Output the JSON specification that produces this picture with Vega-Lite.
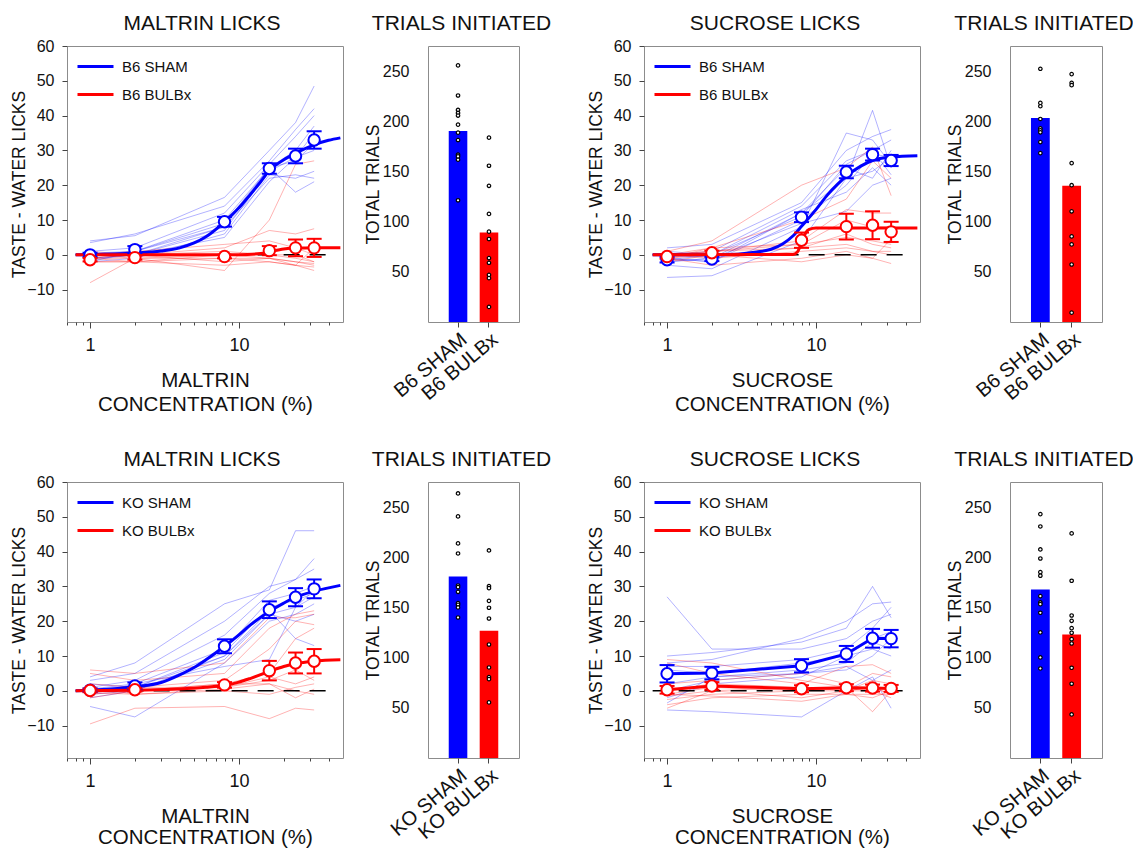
{
"$schema":"https://vega.github.io/schema/vega-lite/v6.json",
"background":"white",
"padding":{"left":10,"top":12,"right":0,"bottom":0},
"config":{
 "font":"Liberation Sans",
 "view":{"stroke":"#8c8c8c","strokeWidth":1},
 "axis":{"domain":false,"grid":false,"tickColor":"#444444","labelColor":"#111111","titleColor":"#111111","titleFontWeight":"normal","labelFont":"Liberation Sans","titleFont":"Liberation Sans"},
 "title":{"fontWeight":"normal","fontSize":21,"color":"#111111","font":"Liberation Sans"},
 "legend":{"orient":"none","legendX":9,"legendY":1,"symbolType":"stroke","symbolStrokeWidth":3,"symbolSize":1296,"symbolOpacity":1,"labelFontSize":15,"labelFont":"Liberation Sans","labelColor":"#111111","rowPadding":-18,"labelOffset":7,"padding":0}
},
"datasets":{
"zero":[{"c":0.8,"v":0},{"c":42,"v":0}],
"p1i":[
{"g":"B6 SHAM","a":"b1","c":1,"v":4},{"g":"B6 SHAM","a":"b1","c":2,"v":5.5},{"g":"B6 SHAM","a":"b1","c":8,"v":16.5},{"g":"B6 SHAM","a":"b1","c":16,"v":30},{"g":"B6 SHAM","a":"b1","c":24,"v":38},{"g":"B6 SHAM","a":"b1","c":32,"v":48.5},
{"g":"B6 SHAM","a":"b2","c":1,"v":3.5},{"g":"B6 SHAM","a":"b2","c":2,"v":6},{"g":"B6 SHAM","a":"b2","c":8,"v":14},{"g":"B6 SHAM","a":"b2","c":16,"v":27},{"g":"B6 SHAM","a":"b2","c":24,"v":36},{"g":"B6 SHAM","a":"b2","c":32,"v":42},
{"g":"B6 SHAM","a":"b3","c":1,"v":1},{"g":"B6 SHAM","a":"b3","c":2,"v":2},{"g":"B6 SHAM","a":"b3","c":8,"v":12},{"g":"B6 SHAM","a":"b3","c":16,"v":26},{"g":"B6 SHAM","a":"b3","c":24,"v":34},{"g":"B6 SHAM","a":"b3","c":32,"v":40},
{"g":"B6 SHAM","a":"b4","c":1,"v":0.5},{"g":"B6 SHAM","a":"b4","c":2,"v":1},{"g":"B6 SHAM","a":"b4","c":8,"v":9},{"g":"B6 SHAM","a":"b4","c":16,"v":25},{"g":"B6 SHAM","a":"b4","c":24,"v":30},{"g":"B6 SHAM","a":"b4","c":32,"v":37},
{"g":"B6 SHAM","a":"b5","c":1,"v":-1},{"g":"B6 SHAM","a":"b5","c":2,"v":0},{"g":"B6 SHAM","a":"b5","c":8,"v":7},{"g":"B6 SHAM","a":"b5","c":16,"v":24},{"g":"B6 SHAM","a":"b5","c":24,"v":28},{"g":"B6 SHAM","a":"b5","c":32,"v":35},
{"g":"B6 SHAM","a":"b6","c":1,"v":-2},{"g":"B6 SHAM","a":"b6","c":2,"v":-1},{"g":"B6 SHAM","a":"b6","c":8,"v":6},{"g":"B6 SHAM","a":"b6","c":16,"v":23},{"g":"B6 SHAM","a":"b6","c":24,"v":22},{"g":"B6 SHAM","a":"b6","c":32,"v":24},
{"g":"B6 SHAM","a":"b7","c":1,"v":-1.5},{"g":"B6 SHAM","a":"b7","c":2,"v":0},{"g":"B6 SHAM","a":"b7","c":8,"v":8},{"g":"B6 SHAM","a":"b7","c":16,"v":22},{"g":"B6 SHAM","a":"b7","c":24,"v":23},{"g":"B6 SHAM","a":"b7","c":32,"v":22},
{"g":"B6 SHAM","a":"b8","c":1,"v":0},{"g":"B6 SHAM","a":"b8","c":2,"v":1},{"g":"B6 SHAM","a":"b8","c":8,"v":10},{"g":"B6 SHAM","a":"b8","c":16,"v":25},{"g":"B6 SHAM","a":"b8","c":24,"v":18},{"g":"B6 SHAM","a":"b8","c":32,"v":21},
{"g":"B6 SHAM","a":"b9","c":1,"v":-1},{"g":"B6 SHAM","a":"b9","c":2,"v":0},{"g":"B6 SHAM","a":"b9","c":8,"v":5},{"g":"B6 SHAM","a":"b9","c":16,"v":21},{"g":"B6 SHAM","a":"b9","c":24,"v":28},{"g":"B6 SHAM","a":"b9","c":32,"v":30},
{"g":"B6 SHAM","a":"b10","c":1,"v":-2},{"g":"B6 SHAM","a":"b10","c":2,"v":1},{"g":"B6 SHAM","a":"b10","c":8,"v":8},{"g":"B6 SHAM","a":"b10","c":16,"v":25},{"g":"B6 SHAM","a":"b10","c":24,"v":27},{"g":"B6 SHAM","a":"b10","c":32,"v":32},
{"g":"B6 BULBx","a":"r1","c":1,"v":-8},{"g":"B6 BULBx","a":"r1","c":2,"v":-1},{"g":"B6 BULBx","a":"r1","c":8,"v":-4.5},{"g":"B6 BULBx","a":"r1","c":16,"v":10},{"g":"B6 BULBx","a":"r1","c":24,"v":26},{"g":"B6 BULBx","a":"r1","c":32,"v":27},
{"g":"B6 BULBx","a":"r2","c":1,"v":-2},{"g":"B6 BULBx","a":"r2","c":2,"v":-2},{"g":"B6 BULBx","a":"r2","c":8,"v":-3},{"g":"B6 BULBx","a":"r2","c":16,"v":-2},{"g":"B6 BULBx","a":"r2","c":24,"v":-3},{"g":"B6 BULBx","a":"r2","c":32,"v":-4.5},
{"g":"B6 BULBx","a":"r3","c":1,"v":-1},{"g":"B6 BULBx","a":"r3","c":2,"v":0},{"g":"B6 BULBx","a":"r3","c":8,"v":2},{"g":"B6 BULBx","a":"r3","c":16,"v":7},{"g":"B6 BULBx","a":"r3","c":24,"v":6},{"g":"B6 BULBx","a":"r3","c":32,"v":7.5},
{"g":"B6 BULBx","a":"r4","c":1,"v":0},{"g":"B6 BULBx","a":"r4","c":2,"v":1},{"g":"B6 BULBx","a":"r4","c":8,"v":3},{"g":"B6 BULBx","a":"r4","c":16,"v":4},{"g":"B6 BULBx","a":"r4","c":24,"v":2},{"g":"B6 BULBx","a":"r4","c":32,"v":0},
{"g":"B6 BULBx","a":"r5","c":1,"v":1},{"g":"B6 BULBx","a":"r5","c":2,"v":0},{"g":"B6 BULBx","a":"r5","c":8,"v":-2},{"g":"B6 BULBx","a":"r5","c":16,"v":-1},{"g":"B6 BULBx","a":"r5","c":24,"v":-2},{"g":"B6 BULBx","a":"r5","c":32,"v":-3},
{"g":"B6 BULBx","a":"r6","c":1,"v":-1},{"g":"B6 BULBx","a":"r6","c":2,"v":-1},{"g":"B6 BULBx","a":"r6","c":8,"v":0},{"g":"B6 BULBx","a":"r6","c":16,"v":0},{"g":"B6 BULBx","a":"r6","c":24,"v":-1},{"g":"B6 BULBx","a":"r6","c":32,"v":-2},
{"g":"B6 BULBx","a":"r7","c":1,"v":-2},{"g":"B6 BULBx","a":"r7","c":2,"v":-2},{"g":"B6 BULBx","a":"r7","c":8,"v":-1},{"g":"B6 BULBx","a":"r7","c":16,"v":-2},{"g":"B6 BULBx","a":"r7","c":24,"v":-3},{"g":"B6 BULBx","a":"r7","c":32,"v":-3.5},
{"g":"B6 BULBx","a":"r8","c":1,"v":0},{"g":"B6 BULBx","a":"r8","c":2,"v":0},{"g":"B6 BULBx","a":"r8","c":8,"v":1},{"g":"B6 BULBx","a":"r8","c":16,"v":0},{"g":"B6 BULBx","a":"r8","c":24,"v":0},{"g":"B6 BULBx","a":"r8","c":32,"v":-2},
{"g":"B6 BULBx","a":"r9","c":1,"v":-1},{"g":"B6 BULBx","a":"r9","c":2,"v":-2},{"g":"B6 BULBx","a":"r9","c":8,"v":0},{"g":"B6 BULBx","a":"r9","c":16,"v":-1},{"g":"B6 BULBx","a":"r9","c":24,"v":-2},{"g":"B6 BULBx","a":"r9","c":32,"v":-2.5},
{"g":"B6 BULBx","a":"r10","c":1,"v":0},{"g":"B6 BULBx","a":"r10","c":2,"v":-1},{"g":"B6 BULBx","a":"r10","c":8,"v":-1},{"g":"B6 BULBx","a":"r10","c":16,"v":-1},{"g":"B6 BULBx","a":"r10","c":24,"v":-3},{"g":"B6 BULBx","a":"r10","c":32,"v":2}
],
"p1f":[
{"g":"B6 SHAM","c":0.8,"v":0},{"g":"B6 SHAM","c":1,"v":0.05},{"g":"B6 SHAM","c":2,"v":0.5},{"g":"B6 SHAM","c":3,"v":1.1},{"g":"B6 SHAM","c":4,"v":2},{"g":"B6 SHAM","c":5,"v":3.4},{"g":"B6 SHAM","c":6,"v":5.2},{"g":"B6 SHAM","c":8,"v":9.5},{"g":"B6 SHAM","c":10,"v":13.5},{"g":"B6 SHAM","c":12,"v":17.5},{"g":"B6 SHAM","c":14,"v":21},{"g":"B6 SHAM","c":16,"v":24.2},{"g":"B6 SHAM","c":20,"v":27.3},{"g":"B6 SHAM","c":24,"v":29.2},{"g":"B6 SHAM","c":32,"v":31.6},{"g":"B6 SHAM","c":40,"v":32.9},{"g":"B6 SHAM","c":48,"v":33.6},
{"g":"B6 BULBx","c":0.8,"v":0},{"g":"B6 BULBx","c":10,"v":0.05},{"g":"B6 BULBx","c":14,"v":0.4},{"g":"B6 BULBx","c":16,"v":0.9},{"g":"B6 BULBx","c":20,"v":1.7},{"g":"B6 BULBx","c":24,"v":1.95},{"g":"B6 BULBx","c":32,"v":2},{"g":"B6 BULBx","c":48,"v":2}
],
"p1m":[
{"g":"B6 SHAM","c":1,"m":0,"lo":-0.6,"hi":0.6},{"g":"B6 SHAM","c":2,"m":1.5,"lo":0.5,"hi":2.5},{"g":"B6 SHAM","c":8,"m":9.5,"lo":8.1,"hi":10.9},{"g":"B6 SHAM","c":16,"m":24.8,"lo":23.3,"hi":26.3},{"g":"B6 SHAM","c":24,"m":28.4,"lo":26.3,"hi":30.5},{"g":"B6 SHAM","c":32,"m":33,"lo":30.5,"hi":35.5},
{"g":"B6 BULBx","c":1,"m":-1.4,"lo":-1.9,"hi":-0.9},{"g":"B6 BULBx","c":2,"m":-0.8,"lo":-1.4,"hi":-0.2},{"g":"B6 BULBx","c":8,"m":-0.5,"lo":-1,"hi":0},{"g":"B6 BULBx","c":16,"m":1.2,"lo":-0.1,"hi":2.5},{"g":"B6 BULBx","c":24,"m":2,"lo":-0.4,"hi":4.4},{"g":"B6 BULBx","c":32,"m":2,"lo":-0.6,"hi":4.6}
],
"p3i":[
{"g":"B6 SHAM","a":"b1","c":1,"v":-6.5},{"g":"B6 SHAM","a":"b1","c":2,"v":-6},{"g":"B6 SHAM","a":"b1","c":8,"v":4},{"g":"B6 SHAM","a":"b1","c":16,"v":22},{"g":"B6 SHAM","a":"b1","c":24,"v":41.5},{"g":"B6 SHAM","a":"b1","c":32,"v":25},
{"g":"B6 SHAM","a":"b2","c":1,"v":-3},{"g":"B6 SHAM","a":"b2","c":2,"v":-4},{"g":"B6 SHAM","a":"b2","c":8,"v":8},{"g":"B6 SHAM","a":"b2","c":16,"v":35},{"g":"B6 SHAM","a":"b2","c":24,"v":33},{"g":"B6 SHAM","a":"b2","c":32,"v":26},
{"g":"B6 SHAM","a":"b3","c":1,"v":2},{"g":"B6 SHAM","a":"b3","c":2,"v":3},{"g":"B6 SHAM","a":"b3","c":8,"v":15},{"g":"B6 SHAM","a":"b3","c":16,"v":30},{"g":"B6 SHAM","a":"b3","c":24,"v":34},{"g":"B6 SHAM","a":"b3","c":32,"v":36},
{"g":"B6 SHAM","a":"b4","c":1,"v":0},{"g":"B6 SHAM","a":"b4","c":2,"v":1},{"g":"B6 SHAM","a":"b4","c":8,"v":14},{"g":"B6 SHAM","a":"b4","c":16,"v":27},{"g":"B6 SHAM","a":"b4","c":24,"v":30},{"g":"B6 SHAM","a":"b4","c":32,"v":33},
{"g":"B6 SHAM","a":"b5","c":1,"v":-2},{"g":"B6 SHAM","a":"b5","c":2,"v":-1},{"g":"B6 SHAM","a":"b5","c":8,"v":12},{"g":"B6 SHAM","a":"b5","c":16,"v":25},{"g":"B6 SHAM","a":"b5","c":24,"v":22},{"g":"B6 SHAM","a":"b5","c":32,"v":30},
{"g":"B6 SHAM","a":"b6","c":1,"v":-1},{"g":"B6 SHAM","a":"b6","c":2,"v":-2},{"g":"B6 SHAM","a":"b6","c":8,"v":10},{"g":"B6 SHAM","a":"b6","c":16,"v":20},{"g":"B6 SHAM","a":"b6","c":24,"v":29},{"g":"B6 SHAM","a":"b6","c":32,"v":28},
{"g":"B6 SHAM","a":"b7","c":1,"v":1},{"g":"B6 SHAM","a":"b7","c":2,"v":0},{"g":"B6 SHAM","a":"b7","c":8,"v":13},{"g":"B6 SHAM","a":"b7","c":16,"v":18},{"g":"B6 SHAM","a":"b7","c":24,"v":25},{"g":"B6 SHAM","a":"b7","c":32,"v":20},
{"g":"B6 SHAM","a":"b8","c":1,"v":-1.5},{"g":"B6 SHAM","a":"b8","c":2,"v":0},{"g":"B6 SHAM","a":"b8","c":8,"v":11},{"g":"B6 SHAM","a":"b8","c":16,"v":26},{"g":"B6 SHAM","a":"b8","c":24,"v":30},{"g":"B6 SHAM","a":"b8","c":32,"v":23},
{"g":"B6 SHAM","a":"b9","c":1,"v":-2},{"g":"B6 SHAM","a":"b9","c":2,"v":-1},{"g":"B6 SHAM","a":"b9","c":8,"v":9},{"g":"B6 SHAM","a":"b9","c":16,"v":12.5},{"g":"B6 SHAM","a":"b9","c":24,"v":20},{"g":"B6 SHAM","a":"b9","c":32,"v":22},
{"g":"B6 SHAM","a":"b10","c":1,"v":-1},{"g":"B6 SHAM","a":"b10","c":2,"v":-2},{"g":"B6 SHAM","a":"b10","c":8,"v":12},{"g":"B6 SHAM","a":"b10","c":16,"v":22},{"g":"B6 SHAM","a":"b10","c":24,"v":24},{"g":"B6 SHAM","a":"b10","c":32,"v":28},
{"g":"B6 BULBx","a":"r1","c":1,"v":1},{"g":"B6 BULBx","a":"r1","c":2,"v":4},{"g":"B6 BULBx","a":"r1","c":8,"v":20},{"g":"B6 BULBx","a":"r1","c":16,"v":25},{"g":"B6 BULBx","a":"r1","c":24,"v":31},{"g":"B6 BULBx","a":"r1","c":32,"v":17},
{"g":"B6 BULBx","a":"r2","c":1,"v":0},{"g":"B6 BULBx","a":"r2","c":2,"v":2},{"g":"B6 BULBx","a":"r2","c":8,"v":10},{"g":"B6 BULBx","a":"r2","c":16,"v":16},{"g":"B6 BULBx","a":"r2","c":24,"v":27},{"g":"B6 BULBx","a":"r2","c":32,"v":22},
{"g":"B6 BULBx","a":"r3","c":1,"v":-1},{"g":"B6 BULBx","a":"r3","c":2,"v":1},{"g":"B6 BULBx","a":"r3","c":8,"v":4},{"g":"B6 BULBx","a":"r3","c":16,"v":13},{"g":"B6 BULBx","a":"r3","c":24,"v":12},{"g":"B6 BULBx","a":"r3","c":32,"v":12},
{"g":"B6 BULBx","a":"r4","c":1,"v":0},{"g":"B6 BULBx","a":"r4","c":2,"v":1},{"g":"B6 BULBx","a":"r4","c":8,"v":3},{"g":"B6 BULBx","a":"r4","c":16,"v":10},{"g":"B6 BULBx","a":"r4","c":24,"v":8},{"g":"B6 BULBx","a":"r4","c":32,"v":8},
{"g":"B6 BULBx","a":"r5","c":1,"v":-1},{"g":"B6 BULBx","a":"r5","c":2,"v":0},{"g":"B6 BULBx","a":"r5","c":8,"v":2},{"g":"B6 BULBx","a":"r5","c":16,"v":6},{"g":"B6 BULBx","a":"r5","c":24,"v":3},{"g":"B6 BULBx","a":"r5","c":32,"v":2},
{"g":"B6 BULBx","a":"r6","c":1,"v":0},{"g":"B6 BULBx","a":"r6","c":2,"v":-1},{"g":"B6 BULBx","a":"r6","c":8,"v":1},{"g":"B6 BULBx","a":"r6","c":16,"v":2},{"g":"B6 BULBx","a":"r6","c":24,"v":1},{"g":"B6 BULBx","a":"r6","c":32,"v":0},
{"g":"B6 BULBx","a":"r7","c":1,"v":-2},{"g":"B6 BULBx","a":"r7","c":2,"v":0},{"g":"B6 BULBx","a":"r7","c":8,"v":-2},{"g":"B6 BULBx","a":"r7","c":16,"v":0},{"g":"B6 BULBx","a":"r7","c":24,"v":-1},{"g":"B6 BULBx","a":"r7","c":32,"v":-2.5},
{"g":"B6 BULBx","a":"r8","c":1,"v":-1},{"g":"B6 BULBx","a":"r8","c":2,"v":2},{"g":"B6 BULBx","a":"r8","c":8,"v":3},{"g":"B6 BULBx","a":"r8","c":16,"v":5},{"g":"B6 BULBx","a":"r8","c":24,"v":4},{"g":"B6 BULBx","a":"r8","c":32,"v":3},
{"g":"B6 BULBx","a":"r9","c":1,"v":0},{"g":"B6 BULBx","a":"r9","c":2,"v":1},{"g":"B6 BULBx","a":"r9","c":8,"v":2},{"g":"B6 BULBx","a":"r9","c":16,"v":3},{"g":"B6 BULBx","a":"r9","c":24,"v":1},{"g":"B6 BULBx","a":"r9","c":32,"v":1},
{"g":"B6 BULBx","a":"r10","c":1,"v":-1},{"g":"B6 BULBx","a":"r10","c":2,"v":-3},{"g":"B6 BULBx","a":"r10","c":8,"v":-1},{"g":"B6 BULBx","a":"r10","c":16,"v":1},{"g":"B6 BULBx","a":"r10","c":24,"v":-1},{"g":"B6 BULBx","a":"r10","c":32,"v":4.5}
],
"p3f":[
{"g":"B6 SHAM","c":0.8,"v":0},{"g":"B6 SHAM","c":2,"v":0},{"g":"B6 SHAM","c":3,"v":0.2},{"g":"B6 SHAM","c":4,"v":0.8},{"g":"B6 SHAM","c":5,"v":1.6},{"g":"B6 SHAM","c":6,"v":3.2},{"g":"B6 SHAM","c":7,"v":5.4},{"g":"B6 SHAM","c":8,"v":8.2},{"g":"B6 SHAM","c":10,"v":13},{"g":"B6 SHAM","c":12,"v":17.3},{"g":"B6 SHAM","c":14,"v":20.3},{"g":"B6 SHAM","c":16,"v":22.6},{"g":"B6 SHAM","c":20,"v":25.5},{"g":"B6 SHAM","c":24,"v":27.1},{"g":"B6 SHAM","c":32,"v":28.1},{"g":"B6 SHAM","c":48,"v":28.5},
{"g":"B6 BULBx","c":0.8,"v":0},{"g":"B6 BULBx","c":7,"v":0.1},{"g":"B6 BULBx","c":7.5,"v":0.8},{"g":"B6 BULBx","c":8,"v":3.5},{"g":"B6 BULBx","c":8.5,"v":6.2},{"g":"B6 BULBx","c":9,"v":7.3},{"g":"B6 BULBx","c":10,"v":7.7},{"g":"B6 BULBx","c":48,"v":7.7}
],
"p3m":[
{"g":"B6 SHAM","c":1,"m":-1.4,"lo":-2.2,"hi":-0.6},{"g":"B6 SHAM","c":2,"m":-1.2,"lo":-1.8,"hi":-0.6},{"g":"B6 SHAM","c":8,"m":10.8,"lo":9.4,"hi":12.2},{"g":"B6 SHAM","c":16,"m":23.8,"lo":22,"hi":25.6},{"g":"B6 SHAM","c":24,"m":28.8,"lo":27.1,"hi":30.5},{"g":"B6 SHAM","c":32,"m":27.1,"lo":25.5,"hi":28.7},
{"g":"B6 BULBx","c":1,"m":-0.5,"lo":-1.1,"hi":0.1},{"g":"B6 BULBx","c":2,"m":0.6,"lo":0,"hi":1.2},{"g":"B6 BULBx","c":8,"m":4.2,"lo":2,"hi":6.4},{"g":"B6 BULBx","c":16,"m":8.1,"lo":4.4,"hi":11.8},{"g":"B6 BULBx","c":24,"m":8.5,"lo":4.5,"hi":12.5},{"g":"B6 BULBx","c":32,"m":6.6,"lo":3.7,"hi":9.5}
],
"p5i":[
{"g":"KO SHAM","a":"b1","c":1,"v":4},{"g":"KO SHAM","a":"b1","c":2,"v":8},{"g":"KO SHAM","a":"b1","c":8,"v":25},{"g":"KO SHAM","a":"b1","c":16,"v":29},{"g":"KO SHAM","a":"b1","c":24,"v":46},{"g":"KO SHAM","a":"b1","c":32,"v":46},
{"g":"KO SHAM","a":"b2","c":1,"v":3},{"g":"KO SHAM","a":"b2","c":2,"v":5},{"g":"KO SHAM","a":"b2","c":8,"v":20},{"g":"KO SHAM","a":"b2","c":16,"v":30},{"g":"KO SHAM","a":"b2","c":24,"v":32},{"g":"KO SHAM","a":"b2","c":32,"v":38},
{"g":"KO SHAM","a":"b3","c":1,"v":1},{"g":"KO SHAM","a":"b3","c":2,"v":3},{"g":"KO SHAM","a":"b3","c":8,"v":16},{"g":"KO SHAM","a":"b3","c":16,"v":28},{"g":"KO SHAM","a":"b3","c":24,"v":32},{"g":"KO SHAM","a":"b3","c":32,"v":35},
{"g":"KO SHAM","a":"b4","c":1,"v":-1},{"g":"KO SHAM","a":"b4","c":2,"v":2},{"g":"KO SHAM","a":"b4","c":8,"v":12},{"g":"KO SHAM","a":"b4","c":16,"v":26},{"g":"KO SHAM","a":"b4","c":24,"v":28},{"g":"KO SHAM","a":"b4","c":32,"v":30},
{"g":"KO SHAM","a":"b5","c":1,"v":0},{"g":"KO SHAM","a":"b5","c":2,"v":1},{"g":"KO SHAM","a":"b5","c":8,"v":11},{"g":"KO SHAM","a":"b5","c":16,"v":24},{"g":"KO SHAM","a":"b5","c":24,"v":26},{"g":"KO SHAM","a":"b5","c":32,"v":28},
{"g":"KO SHAM","a":"b6","c":1,"v":-2},{"g":"KO SHAM","a":"b6","c":2,"v":0},{"g":"KO SHAM","a":"b6","c":8,"v":10},{"g":"KO SHAM","a":"b6","c":16,"v":22},{"g":"KO SHAM","a":"b6","c":24,"v":24},{"g":"KO SHAM","a":"b6","c":32,"v":27},
{"g":"KO SHAM","a":"b7","c":1,"v":-4.5},{"g":"KO SHAM","a":"b7","c":2,"v":-7.5},{"g":"KO SHAM","a":"b7","c":8,"v":8},{"g":"KO SHAM","a":"b7","c":16,"v":20},{"g":"KO SHAM","a":"b7","c":24,"v":22},{"g":"KO SHAM","a":"b7","c":32,"v":25},
{"g":"KO SHAM","a":"b8","c":1,"v":2},{"g":"KO SHAM","a":"b8","c":2,"v":1},{"g":"KO SHAM","a":"b8","c":8,"v":10},{"g":"KO SHAM","a":"b8","c":16,"v":23},{"g":"KO SHAM","a":"b8","c":24,"v":15},{"g":"KO SHAM","a":"b8","c":32,"v":13},
{"g":"KO SHAM","a":"b9","c":1,"v":-1},{"g":"KO SHAM","a":"b9","c":2,"v":0},{"g":"KO SHAM","a":"b9","c":8,"v":9},{"g":"KO SHAM","a":"b9","c":16,"v":22},{"g":"KO SHAM","a":"b9","c":24,"v":20},{"g":"KO SHAM","a":"b9","c":32,"v":22},
{"g":"KO SHAM","a":"b10","c":1,"v":0.5},{"g":"KO SHAM","a":"b10","c":2,"v":2},{"g":"KO SHAM","a":"b10","c":8,"v":7},{"g":"KO SHAM","a":"b10","c":16,"v":9},{"g":"KO SHAM","a":"b10","c":24,"v":24},{"g":"KO SHAM","a":"b10","c":32,"v":29},
{"g":"KO BULBx","a":"r1","c":1,"v":6},{"g":"KO BULBx","a":"r1","c":2,"v":5},{"g":"KO BULBx","a":"r1","c":8,"v":8},{"g":"KO BULBx","a":"r1","c":16,"v":21},{"g":"KO BULBx","a":"r1","c":24,"v":21},{"g":"KO BULBx","a":"r1","c":32,"v":22},
{"g":"KO BULBx","a":"r2","c":1,"v":5},{"g":"KO BULBx","a":"r2","c":2,"v":3},{"g":"KO BULBx","a":"r2","c":8,"v":5},{"g":"KO BULBx","a":"r2","c":16,"v":18},{"g":"KO BULBx","a":"r2","c":24,"v":22},{"g":"KO BULBx","a":"r2","c":32,"v":23},
{"g":"KO BULBx","a":"r3","c":1,"v":-9.5},{"g":"KO BULBx","a":"r3","c":2,"v":-5},{"g":"KO BULBx","a":"r3","c":8,"v":-4.5},{"g":"KO BULBx","a":"r3","c":16,"v":-8},{"g":"KO BULBx","a":"r3","c":24,"v":-5},{"g":"KO BULBx","a":"r3","c":32,"v":-5.5},
{"g":"KO BULBx","a":"r4","c":1,"v":2},{"g":"KO BULBx","a":"r4","c":2,"v":1},{"g":"KO BULBx","a":"r4","c":8,"v":3},{"g":"KO BULBx","a":"r4","c":16,"v":12},{"g":"KO BULBx","a":"r4","c":24,"v":20},{"g":"KO BULBx","a":"r4","c":32,"v":19},
{"g":"KO BULBx","a":"r5","c":1,"v":0},{"g":"KO BULBx","a":"r5","c":2,"v":0},{"g":"KO BULBx","a":"r5","c":8,"v":2},{"g":"KO BULBx","a":"r5","c":16,"v":5},{"g":"KO BULBx","a":"r5","c":24,"v":15},{"g":"KO BULBx","a":"r5","c":32,"v":18},
{"g":"KO BULBx","a":"r6","c":1,"v":-1},{"g":"KO BULBx","a":"r6","c":2,"v":0},{"g":"KO BULBx","a":"r6","c":8,"v":1},{"g":"KO BULBx","a":"r6","c":16,"v":3},{"g":"KO BULBx","a":"r6","c":24,"v":6},{"g":"KO BULBx","a":"r6","c":32,"v":3},
{"g":"KO BULBx","a":"r7","c":1,"v":1},{"g":"KO BULBx","a":"r7","c":2,"v":-1},{"g":"KO BULBx","a":"r7","c":8,"v":0},{"g":"KO BULBx","a":"r7","c":16,"v":-1},{"g":"KO BULBx","a":"r7","c":24,"v":1},{"g":"KO BULBx","a":"r7","c":32,"v":2},
{"g":"KO BULBx","a":"r8","c":1,"v":-2},{"g":"KO BULBx","a":"r8","c":2,"v":0},{"g":"KO BULBx","a":"r8","c":8,"v":2},{"g":"KO BULBx","a":"r8","c":16,"v":2},{"g":"KO BULBx","a":"r8","c":24,"v":0},{"g":"KO BULBx","a":"r8","c":32,"v":-1},
{"g":"KO BULBx","a":"r9","c":1,"v":0},{"g":"KO BULBx","a":"r9","c":2,"v":1},{"g":"KO BULBx","a":"r9","c":8,"v":1},{"g":"KO BULBx","a":"r9","c":16,"v":4},{"g":"KO BULBx","a":"r9","c":24,"v":2},{"g":"KO BULBx","a":"r9","c":32,"v":4},
{"g":"KO BULBx","a":"r10","c":1,"v":-0.5},{"g":"KO BULBx","a":"r10","c":2,"v":-1},{"g":"KO BULBx","a":"r10","c":8,"v":0.5},{"g":"KO BULBx","a":"r10","c":16,"v":2},{"g":"KO BULBx","a":"r10","c":24,"v":-2},{"g":"KO BULBx","a":"r10","c":32,"v":0.5}
],
"p5f":[
{"g":"KO SHAM","c":0.8,"v":0},{"g":"KO SHAM","c":1,"v":0.2},{"g":"KO SHAM","c":2,"v":1.2},{"g":"KO SHAM","c":3,"v":2.4},{"g":"KO SHAM","c":4,"v":4.6},{"g":"KO SHAM","c":5,"v":6.7},{"g":"KO SHAM","c":6,"v":8.9},{"g":"KO SHAM","c":8,"v":12.8},{"g":"KO SHAM","c":10,"v":16.1},{"g":"KO SHAM","c":12,"v":19},{"g":"KO SHAM","c":16,"v":22.8},{"g":"KO SHAM","c":20,"v":25.2},{"g":"KO SHAM","c":24,"v":26.9},{"g":"KO SHAM","c":32,"v":28.6},{"g":"KO SHAM","c":48,"v":30.3},
{"g":"KO BULBx","c":0.8,"v":0},{"g":"KO BULBx","c":2,"v":0.2},{"g":"KO BULBx","c":4,"v":0.5},{"g":"KO BULBx","c":6,"v":1},{"g":"KO BULBx","c":8,"v":1.6},{"g":"KO BULBx","c":10,"v":2.5},{"g":"KO BULBx","c":12,"v":3.6},{"g":"KO BULBx","c":16,"v":5.6},{"g":"KO BULBx","c":20,"v":7},{"g":"KO BULBx","c":24,"v":7.8},{"g":"KO BULBx","c":32,"v":8.5},{"g":"KO BULBx","c":48,"v":8.9}
],
"p5m":[
{"g":"KO SHAM","c":1,"m":0.2,"lo":-0.3,"hi":0.7},{"g":"KO SHAM","c":2,"m":1.4,"lo":0.4,"hi":2.4},{"g":"KO SHAM","c":8,"m":12.8,"lo":10.8,"hi":14.8},{"g":"KO SHAM","c":16,"m":23.3,"lo":20.9,"hi":25.7},{"g":"KO SHAM","c":24,"m":26.9,"lo":24.3,"hi":29.5},{"g":"KO SHAM","c":32,"m":29.3,"lo":26.6,"hi":32},
{"g":"KO BULBx","c":1,"m":0.1,"lo":-0.4,"hi":0.6},{"g":"KO BULBx","c":2,"m":0.3,"lo":-0.2,"hi":0.8},{"g":"KO BULBx","c":8,"m":1.7,"lo":0.9,"hi":2.5},{"g":"KO BULBx","c":16,"m":5.8,"lo":3,"hi":8.6},{"g":"KO BULBx","c":24,"m":8,"lo":5,"hi":11},{"g":"KO BULBx","c":32,"m":8.5,"lo":5,"hi":12}
],
"p7i":[
{"g":"KO SHAM","a":"b1","c":1,"v":27},{"g":"KO SHAM","a":"b1","c":2,"v":12},{"g":"KO SHAM","a":"b1","c":8,"v":12},{"g":"KO SHAM","a":"b1","c":16,"v":15},{"g":"KO SHAM","a":"b1","c":24,"v":20},{"g":"KO SHAM","a":"b1","c":32,"v":22},
{"g":"KO SHAM","a":"b2","c":1,"v":10},{"g":"KO SHAM","a":"b2","c":2,"v":11},{"g":"KO SHAM","a":"b2","c":8,"v":14},{"g":"KO SHAM","a":"b2","c":16,"v":18},{"g":"KO SHAM","a":"b2","c":24,"v":30},{"g":"KO SHAM","a":"b2","c":32,"v":21},
{"g":"KO SHAM","a":"b3","c":1,"v":8},{"g":"KO SHAM","a":"b3","c":2,"v":9},{"g":"KO SHAM","a":"b3","c":8,"v":15},{"g":"KO SHAM","a":"b3","c":16,"v":20},{"g":"KO SHAM","a":"b3","c":24,"v":25},{"g":"KO SHAM","a":"b3","c":32,"v":25.5},
{"g":"KO SHAM","a":"b4","c":1,"v":7},{"g":"KO SHAM","a":"b4","c":2,"v":7},{"g":"KO SHAM","a":"b4","c":8,"v":9},{"g":"KO SHAM","a":"b4","c":16,"v":12},{"g":"KO SHAM","a":"b4","c":24,"v":18},{"g":"KO SHAM","a":"b4","c":32,"v":24},
{"g":"KO SHAM","a":"b5","c":1,"v":6},{"g":"KO SHAM","a":"b5","c":2,"v":5},{"g":"KO SHAM","a":"b5","c":8,"v":8},{"g":"KO SHAM","a":"b5","c":16,"v":10},{"g":"KO SHAM","a":"b5","c":24,"v":15},{"g":"KO SHAM","a":"b5","c":32,"v":17},
{"g":"KO SHAM","a":"b6","c":1,"v":2},{"g":"KO SHAM","a":"b6","c":2,"v":4},{"g":"KO SHAM","a":"b6","c":8,"v":6},{"g":"KO SHAM","a":"b6","c":16,"v":8},{"g":"KO SHAM","a":"b6","c":24,"v":14},{"g":"KO SHAM","a":"b6","c":32,"v":12},
{"g":"KO SHAM","a":"b7","c":1,"v":0},{"g":"KO SHAM","a":"b7","c":2,"v":3},{"g":"KO SHAM","a":"b7","c":8,"v":5},{"g":"KO SHAM","a":"b7","c":16,"v":6},{"g":"KO SHAM","a":"b7","c":24,"v":10},{"g":"KO SHAM","a":"b7","c":32,"v":15},
{"g":"KO SHAM","a":"b8","c":1,"v":-2},{"g":"KO SHAM","a":"b8","c":2,"v":2},{"g":"KO SHAM","a":"b8","c":8,"v":4},{"g":"KO SHAM","a":"b8","c":16,"v":10},{"g":"KO SHAM","a":"b8","c":24,"v":12},{"g":"KO SHAM","a":"b8","c":32,"v":10},
{"g":"KO SHAM","a":"b9","c":1,"v":-3.5},{"g":"KO SHAM","a":"b9","c":2,"v":4},{"g":"KO SHAM","a":"b9","c":8,"v":5},{"g":"KO SHAM","a":"b9","c":16,"v":7},{"g":"KO SHAM","a":"b9","c":24,"v":3},{"g":"KO SHAM","a":"b9","c":32,"v":6},
{"g":"KO SHAM","a":"b10","c":1,"v":-5.5},{"g":"KO SHAM","a":"b10","c":2,"v":-6},{"g":"KO SHAM","a":"b10","c":8,"v":-7.5},{"g":"KO SHAM","a":"b10","c":16,"v":0},{"g":"KO SHAM","a":"b10","c":24,"v":4},{"g":"KO SHAM","a":"b10","c":32,"v":-5},
{"g":"KO BULBx","a":"r1","c":1,"v":9},{"g":"KO BULBx","a":"r1","c":2,"v":8},{"g":"KO BULBx","a":"r1","c":8,"v":3},{"g":"KO BULBx","a":"r1","c":16,"v":1},{"g":"KO BULBx","a":"r1","c":24,"v":5},{"g":"KO BULBx","a":"r1","c":32,"v":4},
{"g":"KO BULBx","a":"r2","c":1,"v":8},{"g":"KO BULBx","a":"r2","c":2,"v":5},{"g":"KO BULBx","a":"r2","c":8,"v":2},{"g":"KO BULBx","a":"r2","c":16,"v":7},{"g":"KO BULBx","a":"r2","c":24,"v":7.5},{"g":"KO BULBx","a":"r2","c":32,"v":5},
{"g":"KO BULBx","a":"r3","c":1,"v":2},{"g":"KO BULBx","a":"r3","c":2,"v":3},{"g":"KO BULBx","a":"r3","c":8,"v":5},{"g":"KO BULBx","a":"r3","c":16,"v":2},{"g":"KO BULBx","a":"r3","c":24,"v":0},{"g":"KO BULBx","a":"r3","c":32,"v":1},
{"g":"KO BULBx","a":"r4","c":1,"v":0},{"g":"KO BULBx","a":"r4","c":2,"v":2},{"g":"KO BULBx","a":"r4","c":8,"v":1},{"g":"KO BULBx","a":"r4","c":16,"v":0},{"g":"KO BULBx","a":"r4","c":24,"v":3},{"g":"KO BULBx","a":"r4","c":32,"v":2},
{"g":"KO BULBx","a":"r5","c":1,"v":-1},{"g":"KO BULBx","a":"r5","c":2,"v":1},{"g":"KO BULBx","a":"r5","c":8,"v":0},{"g":"KO BULBx","a":"r5","c":16,"v":1},{"g":"KO BULBx","a":"r5","c":24,"v":-6},{"g":"KO BULBx","a":"r5","c":32,"v":0},
{"g":"KO BULBx","a":"r6","c":1,"v":-1.5},{"g":"KO BULBx","a":"r6","c":2,"v":0},{"g":"KO BULBx","a":"r6","c":8,"v":-2},{"g":"KO BULBx","a":"r6","c":16,"v":0},{"g":"KO BULBx","a":"r6","c":24,"v":1},{"g":"KO BULBx","a":"r6","c":32,"v":-1},
{"g":"KO BULBx","a":"r7","c":1,"v":-1},{"g":"KO BULBx","a":"r7","c":2,"v":-1.5},{"g":"KO BULBx","a":"r7","c":8,"v":-3},{"g":"KO BULBx","a":"r7","c":16,"v":-1},{"g":"KO BULBx","a":"r7","c":24,"v":-2},{"g":"KO BULBx","a":"r7","c":32,"v":0},
{"g":"KO BULBx","a":"r8","c":1,"v":-5},{"g":"KO BULBx","a":"r8","c":2,"v":0},{"g":"KO BULBx","a":"r8","c":8,"v":1},{"g":"KO BULBx","a":"r8","c":16,"v":0},{"g":"KO BULBx","a":"r8","c":24,"v":0},{"g":"KO BULBx","a":"r8","c":32,"v":-2},
{"g":"KO BULBx","a":"r9","c":1,"v":-4},{"g":"KO BULBx","a":"r9","c":2,"v":-2},{"g":"KO BULBx","a":"r9","c":8,"v":-1},{"g":"KO BULBx","a":"r9","c":16,"v":-1},{"g":"KO BULBx","a":"r9","c":24,"v":-1},{"g":"KO BULBx","a":"r9","c":32,"v":-1},
{"g":"KO BULBx","a":"r10","c":1,"v":-2.5},{"g":"KO BULBx","a":"r10","c":2,"v":-1},{"g":"KO BULBx","a":"r10","c":8,"v":0},{"g":"KO BULBx","a":"r10","c":16,"v":0},{"g":"KO BULBx","a":"r10","c":24,"v":1},{"g":"KO BULBx","a":"r10","c":32,"v":-1}
],
"p7f":[
{"g":"KO SHAM","c":1,"v":4.9},{"g":"KO SHAM","c":2,"v":5.1},{"g":"KO SHAM","c":8,"v":7.2},{"g":"KO SHAM","c":16,"v":10.6},{"g":"KO SHAM","c":24,"v":15.1},{"g":"KO SHAM","c":32,"v":15},
{"g":"KO BULBx","c":1,"v":0.3},{"g":"KO BULBx","c":2,"v":1.4},{"g":"KO BULBx","c":8,"v":0.6},{"g":"KO BULBx","c":16,"v":0.9},{"g":"KO BULBx","c":24,"v":0.8},{"g":"KO BULBx","c":32,"v":0.7}
],
"p7m":[
{"g":"KO SHAM","c":1,"m":4.9,"lo":2.4,"hi":7.4},{"g":"KO SHAM","c":2,"m":5.1,"lo":3.3,"hi":6.9},{"g":"KO SHAM","c":8,"m":7.2,"lo":5.3,"hi":9.1},{"g":"KO SHAM","c":16,"m":10.6,"lo":8.3,"hi":12.9},{"g":"KO SHAM","c":24,"m":15.1,"lo":12.4,"hi":17.8},{"g":"KO SHAM","c":32,"m":15,"lo":12.5,"hi":17.5},
{"g":"KO BULBx","c":1,"m":0.3,"lo":-0.8,"hi":1.4},{"g":"KO BULBx","c":2,"m":1.4,"lo":0.3,"hi":2.5},{"g":"KO BULBx","c":8,"m":0.6,"lo":-0.4,"hi":1.6},{"g":"KO BULBx","c":16,"m":0.9,"lo":-0.1,"hi":1.9},{"g":"KO BULBx","c":24,"m":0.8,"lo":-0.2,"hi":1.8},{"g":"KO BULBx","c":32,"m":0.7,"lo":-0.3,"hi":1.7}
],
"b2":[{"g":"B6 SHAM","v":190.3},{"g":"B6 BULBx","v":89.3}],
"d2":[{"g":"B6 SHAM","v":255.7},{"g":"B6 SHAM","v":225.7},{"g":"B6 SHAM","v":211.3},{"g":"B6 SHAM","v":208.3},{"g":"B6 SHAM","v":205.7},{"g":"B6 SHAM","v":196.7},{"g":"B6 SHAM","v":188.7},{"g":"B6 SHAM","v":181.3},{"g":"B6 SHAM","v":166.7},{"g":"B6 SHAM","v":165},{"g":"B6 SHAM","v":161.7},{"g":"B6 SHAM","v":121.3},
{"g":"B6 BULBx","v":183.7},{"g":"B6 BULBx","v":155.7},{"g":"B6 BULBx","v":135.7},{"g":"B6 BULBx","v":107.7},{"g":"B6 BULBx","v":90},{"g":"B6 BULBx","v":82.7},{"g":"B6 BULBx","v":63.7},{"g":"B6 BULBx","v":59},{"g":"B6 BULBx","v":47},{"g":"B6 BULBx","v":43.7},{"g":"B6 BULBx","v":15}],
"b4":[{"g":"B6 SHAM","v":203.3},{"g":"B6 BULBx","v":135.7}],
"d4":[{"g":"B6 SHAM","v":252.3},{"g":"B6 SHAM","v":218.3},{"g":"B6 SHAM","v":215},{"g":"B6 SHAM","v":202.3},{"g":"B6 SHAM","v":193},{"g":"B6 SHAM","v":191},{"g":"B6 SHAM","v":189},{"g":"B6 SHAM","v":179.3},{"g":"B6 SHAM","v":168.3},
{"g":"B6 BULBx","v":247},{"g":"B6 BULBx","v":238.3},{"g":"B6 BULBx","v":236},{"g":"B6 BULBx","v":158.3},{"g":"B6 BULBx","v":136.3},{"g":"B6 BULBx","v":110.3},{"g":"B6 BULBx","v":85.3},{"g":"B6 BULBx","v":77.3},{"g":"B6 BULBx","v":57.3},{"g":"B6 BULBx","v":9.3}],
"b6":[{"g":"KO SHAM","v":180.9},{"g":"KO BULBx","v":126.7}],
"d6":[{"g":"KO SHAM","v":263.6},{"g":"KO SHAM","v":240.7},{"g":"KO SHAM","v":213.8},{"g":"KO SHAM","v":203.8},{"g":"KO SHAM","v":171.9},{"g":"KO SHAM","v":170.3},{"g":"KO SHAM","v":165.6},{"g":"KO SHAM","v":154.3},{"g":"KO SHAM","v":152.7},{"g":"KO SHAM","v":150},{"g":"KO SHAM","v":140},
{"g":"KO BULBx","v":206.8},{"g":"KO BULBx","v":171.3},{"g":"KO BULBx","v":169.3},{"g":"KO BULBx","v":156.6},{"g":"KO BULBx","v":149.7},{"g":"KO BULBx","v":139},{"g":"KO BULBx","v":113.1},{"g":"KO BULBx","v":90.2},{"g":"KO BULBx","v":80.6},{"g":"KO BULBx","v":78.6},{"g":"KO BULBx","v":55.4}],
"b8":[{"g":"KO SHAM","v":168},{"g":"KO BULBx","v":123}],
"d8":[{"g":"KO SHAM","v":243},{"g":"KO SHAM","v":230.7},{"g":"KO SHAM","v":207.8},{"g":"KO SHAM","v":198.8},{"g":"KO SHAM","v":185.2},{"g":"KO SHAM","v":181.6},{"g":"KO SHAM","v":161.3},{"g":"KO SHAM","v":155},{"g":"KO SHAM","v":153.3},{"g":"KO SHAM","v":144.7},{"g":"KO SHAM","v":125.1},{"g":"KO SHAM","v":100.2},{"g":"KO SHAM","v":89.2},
{"g":"KO BULBx","v":223.8},{"g":"KO BULBx","v":176.6},{"g":"KO BULBx","v":142},{"g":"KO BULBx","v":136.7},{"g":"KO BULBx","v":129.4},{"g":"KO BULBx","v":124.8},{"g":"KO BULBx","v":118.4},{"g":"KO BULBx","v":114.1},{"g":"KO BULBx","v":89.9},{"g":"KO BULBx","v":74},{"g":"KO BULBx","v":43.4}]
},
"columns":7,
"bounds":"flush",
"align":"each",
"spacing":{"row":160,"column":0},
"resolve":{"scale":{"color":"independent","stroke":"independent","fill":"independent"}},
"concat":[
{"width":276,"height":276,"title":{"text":"MALTRIN LICKS","frame":"group","offset":4,"dx":-3},"resolve":{"axis":{"x":"independent"}},
"layer":[
{"data":{"name":"p1i"},"mark":{"type":"line","strokeWidth":1,"opacity":0.3},"encoding":{
"x":{"field":"c","type":"quantitative","scale":{"type":"log","domain":[0.7,50],"nice":false},"axis":{"orient":"bottom","values":[1,10],"format":"d","tickSize":6,"labelFontSize":18,"labelPadding":8,"labelFlush":false,"labelOverlap":false,"title":["MALTRIN","CONCENTRATION (%)"],"titleFontSize":20.5,"titleLineHeight":24,"titlePadding":16}},
"y":{"field":"v","type":"quantitative","scale":{"domain":[-19.3,60],"nice":false,"zero":false},"axis":{"values":[-10,0,10,20,30,40,50,60],"tickCount":12,"labelOverlap":false,"labelFlush":false,"tickSize":5,"labelPadding":8,"labelFontSize":16,"title":"TASTE - WATER LICKS","titleFontSize":17.5,"titlePadding":-2}},
"stroke":{"field":"g","type":"nominal","scale":{"domain":["B6 BULBx","B6 SHAM"],"range":["#ff0000","#0000ff"]},"legend":null},
"detail":{"field":"a","type":"nominal"}}},
{"data":{"name":"zero"},"mark":{"type":"line","color":"#000000","strokeWidth":1.5,"strokeDash":[16,10]},"encoding":{
"x":{"field":"c","type":"quantitative","axis":{"orient":"bottom","values":[0.7,0.8,0.9,2,3,4,5,6,7,8,9,20,30,40],"tickCount":30,"tickSize":3,"labels":false,"title":null}},
"y":{"field":"v","type":"quantitative"}}},
{"data":{"name":"p1f"},"mark":{"type":"line","strokeWidth":3,"interpolate":"monotone"},"encoding":{
"x":{"field":"c","type":"quantitative","axis":null},"y":{"field":"v","type":"quantitative"},
"color":{"field":"g","type":"nominal","scale":{"domain":["B6 SHAM","B6 BULBx"],"range":["#0000ff","#ff0000"]},"legend":{"title":null,"symbolType":"stroke","symbolStrokeWidth":3,"symbolOpacity":1}}}},
{"data":{"name":"p1m"},"mark":{"type":"rule","strokeWidth":2},"encoding":{
"x":{"field":"c","type":"quantitative","axis":null},"y":{"field":"lo","type":"quantitative"},"y2":{"field":"hi"},
"stroke":{"field":"g","type":"nominal","legend":null}}},
{"data":{"name":"p1m"},"mark":{"type":"tick","orient":"horizontal","size":15,"thickness":2,"opacity":1},"encoding":{
"x":{"field":"c","type":"quantitative","axis":null},"y":{"field":"lo","type":"quantitative"},
"fill":{"field":"g","type":"nominal","scale":{"domain":["B6 BULBx","B6 SHAM"],"range":["#ff0000","#0000ff"]},"legend":null}}},
{"data":{"name":"p1m"},"mark":{"type":"tick","orient":"horizontal","size":15,"thickness":2,"opacity":1},"encoding":{
"x":{"field":"c","type":"quantitative","axis":null},"y":{"field":"hi","type":"quantitative"},
"fill":{"field":"g","type":"nominal","legend":null}}},
{"data":{"name":"p1m"},"mark":{"type":"point","shape":"circle","size":130,"filled":true,"fill":"#ffffff","strokeWidth":2,"opacity":1},"encoding":{
"x":{"field":"c","type":"quantitative","axis":null},"y":{"field":"m","type":"quantitative"},
"stroke":{"field":"g","type":"nominal","legend":null}}}
]},
{"width":84.7,"height":276,"data":{"values":[]},"mark":"point","encoding":{},"view":{"stroke":null}},
{"width":91,"height":276,"title":{"text":"TRIALS INITIATED","frame":"group","offset":12,"dx":-12},
"layer":[
{"data":{"name":"b2"},"mark":{"type":"bar"},"encoding":{
"x":{"field":"g","type":"nominal","sort":["B6 SHAM","B6 BULBx"],"scale":{"domain":["B6 SHAM","B6 BULBx"],"paddingInner":0.4,"paddingOuter":0.67},"axis":{"labelAngle":-40,"labelFontSize":20,"tickSize":5,"title":null,"labelPadding":2}},
"y":{"field":"v","type":"quantitative","scale":{"domain":[0,275],"nice":false},"axis":{"values":[50,100,150,200,250],"tickCount":10,"ticks":false,"labelPadding":19,"labelFontSize":16,"title":"TOTAL TRIALS","titleFontSize":17.5,"titlePadding":0}},
"color":{"field":"g","type":"nominal","scale":{"domain":["B6 SHAM","B6 BULBx"],"range":["#0000ff","#ff0000"]},"legend":null}}},
{"data":{"name":"d2"},"mark":{"type":"point","shape":"circle","size":12,"filled":true,"fill":"#ffffff","stroke":"#000000","strokeWidth":1.2,"opacity":1},"encoding":{
"x":{"field":"g","type":"nominal"},"y":{"field":"v","type":"quantitative"}}}
]},
{"width":125,"height":276,"data":{"values":[]},"mark":"point","encoding":{},"view":{"stroke":null}},
{"width":276,"height":276,"title":{"text":"SUCROSE LICKS","frame":"group","offset":4,"dx":-7},"resolve":{"axis":{"x":"independent"}},
"layer":[
{"data":{"name":"p3i"},"mark":{"type":"line","strokeWidth":1,"opacity":0.3},"encoding":{
"x":{"field":"c","type":"quantitative","scale":{"type":"log","domain":[0.7,50],"nice":false},"axis":{"orient":"bottom","values":[1,10],"format":"d","tickSize":6,"labelFontSize":18,"labelPadding":8,"labelFlush":false,"labelOverlap":false,"title":["SUCROSE","CONCENTRATION (%)"],"titleFontSize":20.5,"titleLineHeight":24,"titlePadding":16}},
"y":{"field":"v","type":"quantitative","scale":{"domain":[-19.3,60],"nice":false,"zero":false},"axis":{"values":[-10,0,10,20,30,40,50,60],"tickCount":12,"labelOverlap":false,"labelFlush":false,"tickSize":5,"labelPadding":8,"labelFontSize":16,"title":"TASTE - WATER LICKS","titleFontSize":17.5,"titlePadding":-2}},
"stroke":{"field":"g","type":"nominal","scale":{"domain":["B6 BULBx","B6 SHAM"],"range":["#ff0000","#0000ff"]},"legend":null},
"detail":{"field":"a","type":"nominal"}}},
{"data":{"name":"zero"},"mark":{"type":"line","color":"#000000","strokeWidth":1.5,"strokeDash":[16,10]},"encoding":{
"x":{"field":"c","type":"quantitative","axis":{"orient":"bottom","values":[0.7,0.8,0.9,2,3,4,5,6,7,8,9,20,30,40],"tickCount":30,"tickSize":3,"labels":false,"title":null}},
"y":{"field":"v","type":"quantitative"}}},
{"data":{"name":"p3f"},"mark":{"type":"line","strokeWidth":3,"interpolate":"monotone"},"encoding":{
"x":{"field":"c","type":"quantitative","axis":null},"y":{"field":"v","type":"quantitative"},
"color":{"field":"g","type":"nominal","scale":{"domain":["B6 SHAM","B6 BULBx"],"range":["#0000ff","#ff0000"]},"legend":{"title":null,"symbolType":"stroke","symbolStrokeWidth":3,"symbolOpacity":1}}}},
{"data":{"name":"p3m"},"mark":{"type":"rule","strokeWidth":2},"encoding":{
"x":{"field":"c","type":"quantitative","axis":null},"y":{"field":"lo","type":"quantitative"},"y2":{"field":"hi"},
"stroke":{"field":"g","type":"nominal","legend":null}}},
{"data":{"name":"p3m"},"mark":{"type":"tick","orient":"horizontal","size":15,"thickness":2,"opacity":1},"encoding":{
"x":{"field":"c","type":"quantitative","axis":null},"y":{"field":"lo","type":"quantitative"},
"fill":{"field":"g","type":"nominal","scale":{"domain":["B6 BULBx","B6 SHAM"],"range":["#ff0000","#0000ff"]},"legend":null}}},
{"data":{"name":"p3m"},"mark":{"type":"tick","orient":"horizontal","size":15,"thickness":2,"opacity":1},"encoding":{
"x":{"field":"c","type":"quantitative","axis":null},"y":{"field":"hi","type":"quantitative"},
"fill":{"field":"g","type":"nominal","legend":null}}},
{"data":{"name":"p3m"},"mark":{"type":"point","shape":"circle","size":130,"filled":true,"fill":"#ffffff","strokeWidth":2,"opacity":1},"encoding":{
"x":{"field":"c","type":"quantitative","axis":null},"y":{"field":"m","type":"quantitative"},
"stroke":{"field":"g","type":"nominal","legend":null}}}
]},
{"width":89.7,"height":276,"data":{"values":[]},"mark":"point","encoding":{},"view":{"stroke":null}},
{"width":92,"height":276,"title":{"text":"TRIALS INITIATED","frame":"group","offset":12,"dx":-12},
"layer":[
{"data":{"name":"b4"},"mark":{"type":"bar"},"encoding":{
"x":{"field":"g","type":"nominal","sort":["B6 SHAM","B6 BULBx"],"scale":{"domain":["B6 SHAM","B6 BULBx"],"paddingInner":0.4,"paddingOuter":0.67},"axis":{"labelAngle":-40,"labelFontSize":20,"tickSize":5,"title":null,"labelPadding":2}},
"y":{"field":"v","type":"quantitative","scale":{"domain":[0,275],"nice":false},"axis":{"values":[50,100,150,200,250],"tickCount":10,"ticks":false,"labelPadding":19,"labelFontSize":16,"title":"TOTAL TRIALS","titleFontSize":17.5,"titlePadding":0}},
"color":{"field":"g","type":"nominal","scale":{"domain":["B6 SHAM","B6 BULBx"],"range":["#0000ff","#ff0000"]},"legend":null}}},
{"data":{"name":"d4"},"mark":{"type":"point","shape":"circle","size":12,"filled":true,"fill":"#ffffff","stroke":"#000000","strokeWidth":1.2,"opacity":1},"encoding":{
"x":{"field":"g","type":"nominal"},"y":{"field":"v","type":"quantitative"}}}
]},
{"width":276,"height":276,"title":{"text":"MALTRIN LICKS","frame":"group","offset":4,"dx":-3},"resolve":{"axis":{"x":"independent"}},
"layer":[
{"data":{"name":"p5i"},"mark":{"type":"line","strokeWidth":1,"opacity":0.3},"encoding":{
"x":{"field":"c","type":"quantitative","scale":{"type":"log","domain":[0.7,50],"nice":false},"axis":{"orient":"bottom","values":[1,10],"format":"d","tickSize":6,"labelFontSize":18,"labelPadding":8,"labelFlush":false,"labelOverlap":false,"title":["MALTRIN","CONCENTRATION (%)"],"titleFontSize":20.5,"titleLineHeight":21,"titlePadding":16}},
"y":{"field":"v","type":"quantitative","scale":{"domain":[-19.3,60],"nice":false,"zero":false},"axis":{"values":[-10,0,10,20,30,40,50,60],"tickCount":12,"labelOverlap":false,"labelFlush":false,"tickSize":5,"labelPadding":8,"labelFontSize":16,"title":"TASTE - WATER LICKS","titleFontSize":17.5,"titlePadding":-2}},
"stroke":{"field":"g","type":"nominal","scale":{"domain":["KO BULBx","KO SHAM"],"range":["#ff0000","#0000ff"]},"legend":null},
"detail":{"field":"a","type":"nominal"}}},
{"data":{"name":"zero"},"mark":{"type":"line","color":"#000000","strokeWidth":1.5,"strokeDash":[16,10]},"encoding":{
"x":{"field":"c","type":"quantitative","axis":{"orient":"bottom","values":[0.7,0.8,0.9,2,3,4,5,6,7,8,9,20,30,40],"tickCount":30,"tickSize":3,"labels":false,"title":null}},
"y":{"field":"v","type":"quantitative"}}},
{"data":{"name":"p5f"},"mark":{"type":"line","strokeWidth":3,"interpolate":"monotone"},"encoding":{
"x":{"field":"c","type":"quantitative","axis":null},"y":{"field":"v","type":"quantitative"},
"color":{"field":"g","type":"nominal","scale":{"domain":["KO SHAM","KO BULBx"],"range":["#0000ff","#ff0000"]},"legend":{"title":null,"symbolType":"stroke","symbolStrokeWidth":3,"symbolOpacity":1}}}},
{"data":{"name":"p5m"},"mark":{"type":"rule","strokeWidth":2},"encoding":{
"x":{"field":"c","type":"quantitative","axis":null},"y":{"field":"lo","type":"quantitative"},"y2":{"field":"hi"},
"stroke":{"field":"g","type":"nominal","legend":null}}},
{"data":{"name":"p5m"},"mark":{"type":"tick","orient":"horizontal","size":15,"thickness":2,"opacity":1},"encoding":{
"x":{"field":"c","type":"quantitative","axis":null},"y":{"field":"lo","type":"quantitative"},
"fill":{"field":"g","type":"nominal","scale":{"domain":["KO BULBx","KO SHAM"],"range":["#ff0000","#0000ff"]},"legend":null}}},
{"data":{"name":"p5m"},"mark":{"type":"tick","orient":"horizontal","size":15,"thickness":2,"opacity":1},"encoding":{
"x":{"field":"c","type":"quantitative","axis":null},"y":{"field":"hi","type":"quantitative"},
"fill":{"field":"g","type":"nominal","legend":null}}},
{"data":{"name":"p5m"},"mark":{"type":"point","shape":"circle","size":130,"filled":true,"fill":"#ffffff","strokeWidth":2,"opacity":1},"encoding":{
"x":{"field":"c","type":"quantitative","axis":null},"y":{"field":"m","type":"quantitative"},
"stroke":{"field":"g","type":"nominal","legend":null}}}
]},
{"width":84.7,"height":276,"data":{"values":[]},"mark":"point","encoding":{},"view":{"stroke":null}},
{"width":91,"height":276,"title":{"text":"TRIALS INITIATED","frame":"group","offset":12,"dx":-12},
"layer":[
{"data":{"name":"b6"},"mark":{"type":"bar"},"encoding":{
"x":{"field":"g","type":"nominal","sort":["KO SHAM","KO BULBx"],"scale":{"domain":["KO SHAM","KO BULBx"],"paddingInner":0.4,"paddingOuter":0.67},"axis":{"labelAngle":-40,"labelFontSize":20,"tickSize":5,"title":null,"labelPadding":2}},
"y":{"field":"v","type":"quantitative","scale":{"domain":[0,275],"nice":false},"axis":{"values":[50,100,150,200,250],"tickCount":10,"ticks":false,"labelPadding":19,"labelFontSize":16,"title":"TOTAL TRIALS","titleFontSize":17.5,"titlePadding":0}},
"color":{"field":"g","type":"nominal","scale":{"domain":["KO SHAM","KO BULBx"],"range":["#0000ff","#ff0000"]},"legend":null}}},
{"data":{"name":"d6"},"mark":{"type":"point","shape":"circle","size":12,"filled":true,"fill":"#ffffff","stroke":"#000000","strokeWidth":1.2,"opacity":1},"encoding":{
"x":{"field":"g","type":"nominal"},"y":{"field":"v","type":"quantitative"}}}
]},
{"width":125,"height":276,"data":{"values":[]},"mark":"point","encoding":{},"view":{"stroke":null}},
{"width":276,"height":276,"title":{"text":"SUCROSE LICKS","frame":"group","offset":4,"dx":-7},"resolve":{"axis":{"x":"independent"}},
"layer":[
{"data":{"name":"p7i"},"mark":{"type":"line","strokeWidth":1,"opacity":0.3},"encoding":{
"x":{"field":"c","type":"quantitative","scale":{"type":"log","domain":[0.7,50],"nice":false},"axis":{"orient":"bottom","values":[1,10],"format":"d","tickSize":6,"labelFontSize":18,"labelPadding":8,"labelFlush":false,"labelOverlap":false,"title":["SUCROSE","CONCENTRATION (%)"],"titleFontSize":20.5,"titleLineHeight":21,"titlePadding":16}},
"y":{"field":"v","type":"quantitative","scale":{"domain":[-19.3,60],"nice":false,"zero":false},"axis":{"values":[-10,0,10,20,30,40,50,60],"tickCount":12,"labelOverlap":false,"labelFlush":false,"tickSize":5,"labelPadding":8,"labelFontSize":16,"title":"TASTE - WATER LICKS","titleFontSize":17.5,"titlePadding":-2}},
"stroke":{"field":"g","type":"nominal","scale":{"domain":["KO BULBx","KO SHAM"],"range":["#ff0000","#0000ff"]},"legend":null},
"detail":{"field":"a","type":"nominal"}}},
{"data":{"name":"zero"},"mark":{"type":"line","color":"#000000","strokeWidth":1.5,"strokeDash":[16,10]},"encoding":{
"x":{"field":"c","type":"quantitative","axis":{"orient":"bottom","values":[0.7,0.8,0.9,2,3,4,5,6,7,8,9,20,30,40],"tickCount":30,"tickSize":3,"labels":false,"title":null}},
"y":{"field":"v","type":"quantitative"}}},
{"data":{"name":"p7f"},"mark":{"type":"line","strokeWidth":3},"encoding":{
"x":{"field":"c","type":"quantitative","axis":null},"y":{"field":"v","type":"quantitative"},
"color":{"field":"g","type":"nominal","scale":{"domain":["KO SHAM","KO BULBx"],"range":["#0000ff","#ff0000"]},"legend":{"title":null,"symbolType":"stroke","symbolStrokeWidth":3,"symbolOpacity":1}}}},
{"data":{"name":"p7m"},"mark":{"type":"rule","strokeWidth":2},"encoding":{
"x":{"field":"c","type":"quantitative","axis":null},"y":{"field":"lo","type":"quantitative"},"y2":{"field":"hi"},
"stroke":{"field":"g","type":"nominal","legend":null}}},
{"data":{"name":"p7m"},"mark":{"type":"tick","orient":"horizontal","size":15,"thickness":2,"opacity":1},"encoding":{
"x":{"field":"c","type":"quantitative","axis":null},"y":{"field":"lo","type":"quantitative"},
"fill":{"field":"g","type":"nominal","scale":{"domain":["KO BULBx","KO SHAM"],"range":["#ff0000","#0000ff"]},"legend":null}}},
{"data":{"name":"p7m"},"mark":{"type":"tick","orient":"horizontal","size":15,"thickness":2,"opacity":1},"encoding":{
"x":{"field":"c","type":"quantitative","axis":null},"y":{"field":"hi","type":"quantitative"},
"fill":{"field":"g","type":"nominal","legend":null}}},
{"data":{"name":"p7m"},"mark":{"type":"point","shape":"circle","size":130,"filled":true,"fill":"#ffffff","strokeWidth":2,"opacity":1},"encoding":{
"x":{"field":"c","type":"quantitative","axis":null},"y":{"field":"m","type":"quantitative"},
"stroke":{"field":"g","type":"nominal","legend":null}}}
]},
{"width":89.7,"height":276,"data":{"values":[]},"mark":"point","encoding":{},"view":{"stroke":null}},
{"width":92,"height":276,"title":{"text":"TRIALS INITIATED","frame":"group","offset":12,"dx":-12},
"layer":[
{"data":{"name":"b8"},"mark":{"type":"bar"},"encoding":{
"x":{"field":"g","type":"nominal","sort":["KO SHAM","KO BULBx"],"scale":{"domain":["KO SHAM","KO BULBx"],"paddingInner":0.4,"paddingOuter":0.67},"axis":{"labelAngle":-40,"labelFontSize":20,"tickSize":5,"title":null,"labelPadding":2}},
"y":{"field":"v","type":"quantitative","scale":{"domain":[0,275],"nice":false},"axis":{"values":[50,100,150,200,250],"tickCount":10,"ticks":false,"labelPadding":19,"labelFontSize":16,"title":"TOTAL TRIALS","titleFontSize":17.5,"titlePadding":0}},
"color":{"field":"g","type":"nominal","scale":{"domain":["KO SHAM","KO BULBx"],"range":["#0000ff","#ff0000"]},"legend":null}}},
{"data":{"name":"d8"},"mark":{"type":"point","shape":"circle","size":12,"filled":true,"fill":"#ffffff","stroke":"#000000","strokeWidth":1.2,"opacity":1},"encoding":{
"x":{"field":"g","type":"nominal"},"y":{"field":"v","type":"quantitative"}}}
]}
]
}
